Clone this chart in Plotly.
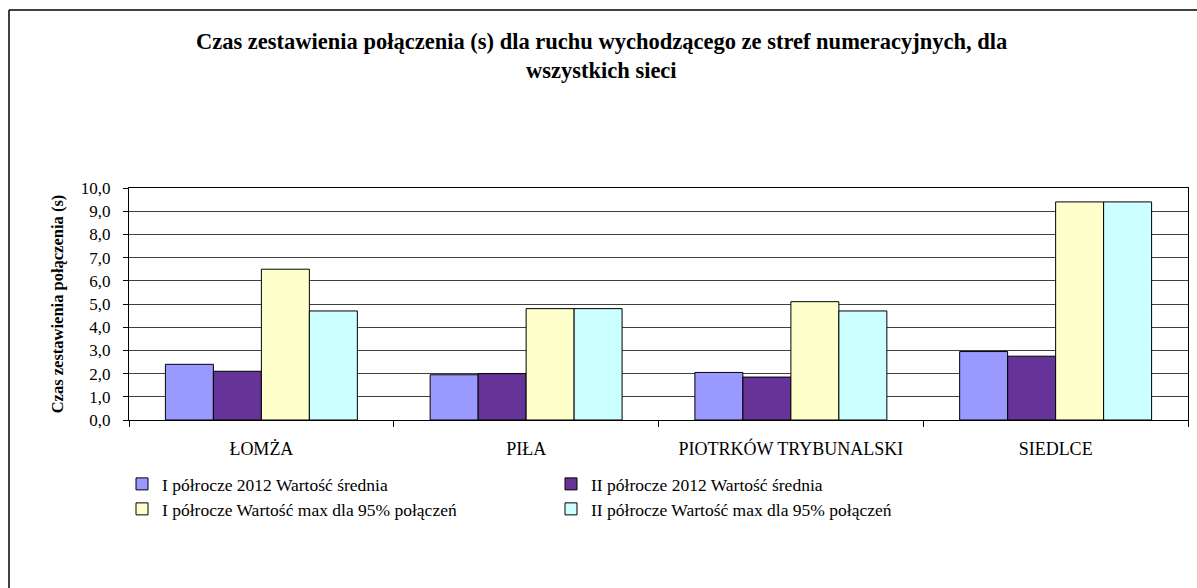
import plotly.graph_objects as go

categories = ["ŁOMŻA", "PIŁA", "PIOTRKÓW TRYBUNALSKI", "SIEDLCE"]
series_names = [
    "I półrocze 2012 Wartość średnia",
    "II półrocze 2012 Wartość średnia",
    "I półrocze Wartość max dla 95% połączeń",
    "II półrocze Wartość max dla 95% połączeń",
]
s1_avg = [2.4, 1.95, 2.05, 2.95]
s2_avg = [2.1, 2.0, 1.85, 2.75]
s1_max = [6.5, 4.8, 5.1, 9.4]
s2_max = [4.7, 4.8, 4.7, 9.4]
y_ticks = [0, 1, 2, 3, 4, 5, 6, 7, 8, 9, 10]
title_lines = [
    "Czas zestawienia połączenia (s) dla ruchu wychodzącego ze stref numeracyjnych, dla",
    "wszystkich sieci",
]
y_title = "Czas zestawienia połączenia (s)"

colors = ["#9999FF", "#663399", "#FFFFCC", "#CCFFFF"]
values = [s1_avg, s2_avg, s1_max, s2_max]
legends = ["legend", "legend", "legend2", "legend2"]

W, H = 1197, 588
L, R, T, B = 129, 9, 188, 168
pw, ph = W - L - R, H - T - B

def px_x(x):
    return (x - L) / pw

def px_y(y):
    return (H - B - y) / ph

serif = "Liberation Serif, Times New Roman, serif"

fig = go.Figure()
for name, vals, c, lg in zip(series_names, values, colors, legends):
    fig.add_trace(go.Bar(
        x=categories, y=vals, name=name,
        marker=dict(color=c, line=dict(color="#000000", width=1)),
        legend=lg,
    ))

legend_common = dict(
    orientation="h", xanchor="left", yanchor="middle",
    font=dict(family=serif, size=17.5, color="#000000"),
    bgcolor="rgba(0,0,0,0)", entrywidth=384, entrywidthmode="pixels",
    itemwidth=30, traceorder="normal",
)

annotations = [
    dict(text=title_lines[0], xref="paper", yref="paper", x=px_x(601), y=px_y(42),
         xanchor="center", yanchor="middle", showarrow=False, borderpad=0,
         font=dict(family=serif, size=22.5, color="#000000", weight="bold")),
    dict(text=title_lines[1], xref="paper", yref="paper", x=px_x(601), y=px_y(70),
         xanchor="center", yanchor="middle", showarrow=False, borderpad=0,
         font=dict(family=serif, size=22.5, color="#000000", weight="bold")),
]

fig.update_layout(
    width=W, height=H,
    margin=dict(l=L, r=R, t=T, b=B),
    paper_bgcolor="#FFFFFF", plot_bgcolor="#FFFFFF",
    separators=",.",
    barmode="group", bargap=0.275, bargroupgap=0,
    xaxis=dict(
        type="category", tickson="boundaries", ticks="outside", ticklen=6,
        tickcolor="#000000", showline=True, linecolor="#000000", linewidth=1,
        mirror=True, showgrid=False, ticklabelstandoff=12,
        tickfont=dict(family=serif, size=18, color="#000000"),
    ),
    yaxis=dict(
        range=[0, 10], tickvals=y_ticks, tickformat=".1f",
        ticks="outside", ticklen=5, tickcolor="#000000",
        showline=True, linecolor="#000000", linewidth=1, mirror=True,
        showgrid=True, gridcolor="#404040", gridwidth=1,
        ticklabelstandoff=9,
        tickfont=dict(family=serif, size=17, color="#000000"),
        title=dict(text=y_title,
                   font=dict(family=serif, size=16.5, color="#000000", weight="bold"),
                   standoff=13),
        zeroline=False,
    ),
    legend=dict(x=px_x(122), y=px_y(484), **legend_common),
    legend2=dict(x=px_x(122), y=px_y(509), **legend_common),
    showlegend=True,
    annotations=annotations,
    shapes=[
        dict(type="line", xref="paper", yref="paper",
             x0=px_x(9), x1=px_x(9), y0=px_y(H + 5), y1=px_y(10),
             line=dict(color="#000000", width=1.5)),
        dict(type="line", xref="paper", yref="paper",
             x0=px_x(9), x1=px_x(W + 5), y0=px_y(10), y1=px_y(10),
             line=dict(color="#000000", width=1.5)),
    ],
)

fig.write_html("out.html", config={"displayModeBar": False},
               post_script="document.body.style.margin='0px';")
